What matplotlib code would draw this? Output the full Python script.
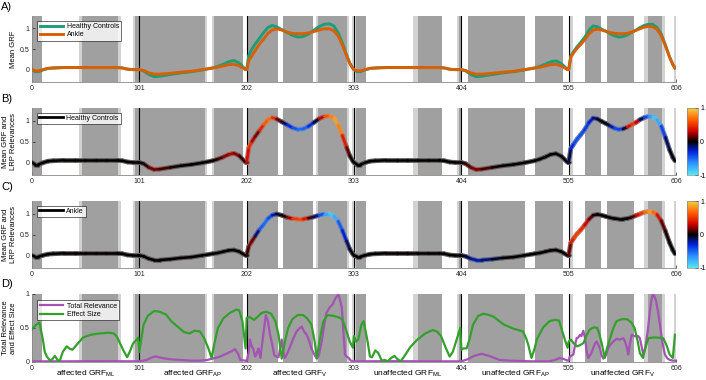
import numpy as np
import matplotlib
matplotlib.use('Agg')
import matplotlib.pyplot as plt
from matplotlib.collections import LineCollection
from matplotlib.colors import LinearSegmentedColormap, Normalize, to_rgba
from matplotlib.lines import Line2D
import matplotlib.transforms as mtransforms
import matplotlib.cm as cm

plt.rcParams['font.family'] = ['Liberation Sans', 'DejaVu Sans']

# ---------------- data ----------------
xticks = [0, 101, 202, 303, 404, 505, 606]
boundaries = [101, 202, 303, 404, 505]
categories = ['affected GRF$_{\\mathregular{ML}}$', 'affected GRF$_{\\mathregular{AP}}$',
              'affected GRF$_{\\mathregular{V}}$', 'unaffected GRF$_{\\mathregular{ML}}$',
              'unaffected GRF$_{\\mathregular{AP}}$', 'unaffected GRF$_{\\mathregular{V}}$']
category_centers = [50.5, 151.5, 252.5, 353.5, 454.5, 555.5]

dark_spans = [(0, 9), (47, 81), (96.6, 163), (171, 198.5), (202.3, 231.2), (236.5, 264.7),
              (269.5, 296.8), (304.5, 314.3), (363.5, 386), (401.8, 404.3), (410, 464),
              (473.3, 499.4), (520.5, 535), (541.4, 566.5), (579.5, 593)]
light_spans = [(8.5, 9.6), (44, 47), (81, 83.5), (94.7, 96.6), (163, 165), (169.5, 171),
               (267.5, 269.5), (296.8, 298.3), (301.4, 304.5), (358.2, 363.5), (399.6, 401.8),
               (505.6, 509.5), (576, 579.5), (593, 596), (604, 606)]

grf_x = [0, 3, 6, 10, 15, 20, 30, 40, 50, 60, 70, 80, 85, 90, 95, 100,
         101, 105, 110, 115, 120, 130, 140, 150, 160, 170, 175, 180, 185, 190, 195, 201,
         202, 204, 207, 210, 214, 218, 222, 226, 230, 235, 240, 245, 250, 255, 260, 265, 270, 275,
         280, 284, 288, 292, 296, 299, 302,
         303, 306, 309, 313, 318, 323, 333, 343, 353, 363, 373, 383, 388, 393, 398, 403,
         404, 408, 413, 418, 423, 433, 443, 453, 463, 473, 478, 483, 488, 493, 498, 504,
         505, 507, 510, 513, 516, 520, 524, 528, 532, 536, 540, 544, 548, 552, 556, 560, 564, 568,
         572, 576, 580, 584, 588, 592, 596, 600, 603, 605]

hc_grf = [0.0, -0.05, -0.05, -0.01, 0.03, 0.04, 0.05, 0.05, 0.05, 0.05, 0.05, 0.05, 0.04, 0.01, 0.0, 0.0,
          0.0, -0.03, -0.12, -0.17, -0.16, -0.12, -0.08, -0.05, -0.01, 0.04, 0.08, 0.13, 0.19, 0.22, 0.16, 0.0,
          0.0, 0.35, 0.5, 0.62, 0.76, 0.9, 1.02, 1.07, 1.04, 0.97, 0.9, 0.83, 0.79, 0.8, 0.86, 0.95, 1.04, 1.1,
          1.11, 1.06, 0.9, 0.65, 0.36, 0.16, 0.03,
          0.0, -0.05, -0.05, -0.01, 0.03, 0.04, 0.05, 0.05, 0.05, 0.05, 0.05, 0.05, 0.04, 0.01, 0.0, 0.0,
          0.0, -0.03, -0.12, -0.17, -0.16, -0.12, -0.08, -0.05, -0.01, 0.04, 0.08, 0.13, 0.19, 0.21, 0.15, 0.0,
          0.0, 0.33, 0.45, 0.56, 0.65, 0.78, 0.95, 1.06, 1.04, 0.98, 0.93, 0.87, 0.82, 0.79, 0.8, 0.84, 0.9, 0.95,
          1.02, 1.07, 1.1, 1.1, 1.02, 0.87, 0.6, 0.3, 0.12, 0.04]

ankle_grf = [0.0, -0.03, -0.03, 0.0, 0.03, 0.04, 0.05, 0.05, 0.05, 0.05, 0.05, 0.05, 0.04, 0.01, 0.0, 0.0,
             0.0, -0.02, -0.08, -0.11, -0.11, -0.09, -0.06, -0.04, 0.0, 0.04, 0.06, 0.09, 0.12, 0.13, 0.09, 0.0,
             0.0, 0.22, 0.34, 0.46, 0.62, 0.74, 0.88, 0.96, 0.99, 0.96, 0.91, 0.88, 0.87, 0.87, 0.89, 0.92, 0.96, 0.99,
             0.99, 0.94, 0.82, 0.6, 0.34, 0.15, 0.03,
             0.0, -0.03, -0.03, 0.0, 0.03, 0.04, 0.05, 0.05, 0.05, 0.05, 0.05, 0.05, 0.04, 0.01, 0.0, 0.0,
             0.0, -0.02, -0.08, -0.11, -0.11, -0.09, -0.06, -0.04, 0.0, 0.04, 0.06, 0.09, 0.12, 0.13, 0.09, 0.0,
             0.0, 0.3, 0.42, 0.52, 0.6, 0.72, 0.86, 0.96, 0.98, 0.96, 0.93, 0.9, 0.88, 0.87, 0.87, 0.88, 0.91, 0.95,
             0.99, 1.03, 1.05, 1.04, 0.98, 0.83, 0.58, 0.3, 0.13, 0.04]

hc_rel = [0] * 16 + \
         [0, 0, 0.1, 0.2, 0.15, 0.05, 0, 0, 0, 0, 0.05, 0.15, 0.25, 0.25, 0.15, 0] + \
         [0.2, 0.5, 0.45, 0.05, 0.3, 0.55, 0.7, 0.65, 0.3, 0.0, -0.2, -0.4, -0.5, -0.55, -0.45, -0.2, 0.05, 0.5,
          0.7, 0.8, 0.9, 0.6, 0.2, 0.05, 0.0] + \
         [0] * 16 + \
         [0, 0.05, 0.15, 0.2, 0.15, 0.05, 0, 0, 0, 0, 0, 0, 0, 0, 0, 0] + \
         [0, -0.2, -0.4, -0.45, -0.45, -0.4, -0.35, -0.2, -0.1, 0, 0, -0.1, -0.35, -0.45, -0.35, 0.2, 0.5, 0.5,
          0.05, -0.3, -0.55, -0.8, -0.9, -0.6, -0.2, -0.05, 0, 0]

ankle_rel = [0] * 16 + [0] * 16 + \
            [0, 0.15, 0.2, 0.1, -0.4, -0.55, -0.5, -0.35, -0.1, 0, 0.05, 0.4, 0.6, 0.55, 0.2, 0, -0.3, -0.6,
             -0.85, -0.9, -0.6, -0.35, -0.2, -0.05, 0] + \
            [0] * 16 + \
            [0, -0.05, -0.15, -0.25, -0.2, -0.1, 0, 0, 0, 0, 0, 0, 0, 0, 0, 0] + \
            [0, 0.3, 0.5, 0.55, 0.5, 0.4, 0.2, 0.05, 0, 0, 0, 0, 0, 0, 0, 0, 0, 0.2, 0.4, 0.6, 0.8, 0.85, 0.5,
             0.2, 0.05, 0, 0, 0]

es_x = [0, 4, 7, 10, 12, 14, 17, 19, 21.6, 24, 26, 29, 32.6, 35, 38, 43, 48, 55, 64, 72, 77, 80, 83, 86, 89.5,
        92, 95, 98.5, 100,
        101, 103, 105, 109, 115, 120, 126, 131, 137, 143, 148, 153, 158, 162, 166, 169, 172, 175, 180, 186, 192,
        195, 198, 201,
        202, 205, 209, 212, 216, 220, 225, 229, 232, 235, 238, 241, 245, 250, 255, 259, 263, 266, 268, 271, 274,
        278, 283, 288, 292, 296, 299, 302,
        303, 305, 307, 310, 312, 314, 316, 318, 320, 323, 326, 329, 332, 335, 338, 341, 344, 347, 351, 356, 362,
        370, 377, 381, 385, 389, 393, 396, 399, 403,
        404, 406, 409, 412, 415, 420, 425, 430, 434, 439, 444, 453, 462, 465, 467, 470, 473, 475, 481, 487, 492,
        496, 499, 502, 504,
        505, 507, 510, 513, 516, 519, 522, 525, 529, 532, 534, 536, 539, 541, 544, 547, 550, 555, 560, 564, 567,
        570, 572, 575, 577, 580, 584, 588, 594, 597, 600, 603, 605]
effect_size = [0.48, 0.55, 0.58, 0.35, 0.15, 0.08, 0.02, 0.04, 0.09, 0.03, 0.01, 0.15, 0.23, 0.2, 0.18, 0.27,
               0.36, 0.4, 0.42, 0.43, 0.42, 0.37, 0.27, 0.17, 0.07, 0.15, 0.27, 0.33, 0.36,
               0.15, 0.35, 0.55, 0.68, 0.75, 0.74, 0.7, 0.6, 0.52, 0.44, 0.42, 0.46, 0.45, 0.35, 0.2, 0.06, 0.3,
               0.5, 0.64, 0.72, 0.77, 0.76, 0.6, 0.2,
               0.65, 0.66, 0.62, 0.66, 0.72, 0.74, 0.71, 0.6, 0.4, 0.05, 0.3, 0.5, 0.63, 0.69, 0.69, 0.64, 0.55,
               0.3, 0.06, 0.35, 0.59, 0.69, 0.68, 0.66, 0.63, 0.45, 0.3, 0.21,
               0.38, 0.3, 0.33, 0.55, 0.6, 0.45, 0.28, 0.08, 0.07, 0.17, 0.13, 0.02, 0.03, 0.01, 0.06, 0.09, 0.04,
               0.01, 0.1, 0.22, 0.32, 0.42, 0.47, 0.45, 0.38, 0.22, 0.08, 0.15, 0.3, 0.5,
               0.18, 0.2, 0.2, 0.35, 0.55, 0.68, 0.71, 0.69, 0.67, 0.61, 0.55, 0.49, 0.45, 0.35, 0.25, 0.06, 0.2,
               0.33, 0.51, 0.6, 0.62, 0.61, 0.45, 0.3, 0.21,
               0.3, 0.33, 0.27, 0.23, 0.25, 0.28, 0.4, 0.48, 0.51, 0.5, 0.4, 0.28, 0.06, 0.2, 0.35, 0.5, 0.6, 0.63,
               0.63, 0.58, 0.5, 0.3, 0.13, 0.06, 0.2, 0.35, 0.36, 0.36, 0.35, 0.25, 0.11, 0.06, 0.4]

tr_x = [0, 30, 60, 100,
        101, 108, 113, 117, 122, 130, 140, 150, 158, 165, 170, 175, 180, 184, 188, 191, 194, 196, 201,
        202, 204, 205, 207, 208, 210, 212, 213, 215, 216, 218, 220, 222, 224, 225.5, 228, 230, 232, 235, 237, 238,
        240, 243, 246, 249, 252, 254, 256, 258.5, 261, 263, 266, 268, 270, 272.6, 275, 277, 280, 283, 285, 287,
        288.5, 290, 291.5, 293, 294.5, 296, 298, 300, 302,
        303, 340, 370, 403,
        404, 410, 416, 423, 430, 440, 450, 470, 487, 492, 497, 501, 504,
        505, 506, 509.4, 511, 512.5, 514, 515.6, 517, 518.8, 520.4, 522, 523.5, 526, 528, 530, 531.4, 533, 534.5,
        536, 537.6, 540, 542, 544, 547, 550, 553, 556.4, 558, 560, 561, 563, 564.3, 567, 570.5, 572, 574, 575.2,
        577, 579.4, 581.5, 583, 584, 585.5, 587.2, 589, 590.9, 593, 595.6, 598, 600.4, 603, 605]
total_relevance = [0.01, 0.01, 0.012, 0.01,
                   0.01, 0.03, 0.07, 0.08, 0.06, 0.04, 0.03, 0.02, 0.02, 0.03, 0.05, 0.07, 0.1, 0.13, 0.16, 0.19,
                   0.12, 0.03, 0.02,
                   0.01, 0.15, 0.33, 0.22, 0.2, 0.08, 0.15, 0.2, 0.06, 0.2, 0.45, 0.69, 0.6, 0.4, 0.3, 0.1, 0.08,
                   0.07, 0.33, 0.1, 0.06, 0.12, 0.23, 0.35, 0.45, 0.5, 0.52, 0.45, 0.4, 0.3, 0.2, 0.1, 0.05, 0.1,
                   0.3, 0.55, 0.72, 0.8, 0.85, 0.92, 0.97, 0.99, 0.9, 0.8, 0.45, 0.11, 0.08, 0.06, 0.02, 0.01,
                   0.01, 0.012, 0.01, 0.01,
                   0.01, 0.04, 0.09, 0.12, 0.09, 0.03, 0.02, 0.01, 0.01, 0.03, 0.06, 0.04, 0.02,
                   0.02, 0.08, 0.11, 0.25, 0.35, 0.36, 0.4, 0.38, 0.46, 0.35, 0.15, 0.06, 0.12, 0.2, 0.28, 0.3,
                   0.25, 0.2, 0.1, 0.05, 0.1, 0.2, 0.25, 0.3, 0.34, 0.33, 0.35, 0.3, 0.2, 0.11, 0.3, 0.4, 0.38,
                   0.38, 0.35, 0.2, 0.11, 0.2, 0.45, 0.75, 0.92, 0.99, 0.97, 0.9, 0.75, 0.55, 0.3, 0.11, 0.05,
                   0.03, 0.02, 0.02]

# ---------------- style ----------------
c_hc = '#1b9e77'
c_ankle = '#d95f02'
c_tr = '#a552b5'
c_es = '#33a02c'
dark_gray = '#a0a0a0'
light_gray = '#d2d2d2'
rel_cmap = LinearSegmentedColormap.from_list(
    'rel', [(0.0, '#55e8f5'), (0.18, '#2a90ff'), (0.35, '#0022dd'), (0.5, '#000000'),
            (0.65, '#cc0000'), (0.82, '#ff5a00'), (1.0, '#f2d040')])
norm = Normalize(-1, 1)

W, H = 706, 380
fig = plt.figure(figsize=(W / 100, H / 100), dpi=100)

def fx(px):
    return px / W

def fy(py):
    return 1 - py / H

ax_left, ax_right = 32, 676
panels = [(16, 82), (108, 175), (201, 268), (294, 362)]
axes = []
for (t, b) in panels:
    ax = fig.add_axes([fx(ax_left), fy(b), fx(ax_right - ax_left), (b - t) / H])
    axes.append(ax)

fs_tick = 5
for i, ax in enumerate(axes):
    for s, e in light_spans:
        ax.axvspan(s, e, color=light_gray, lw=0, zorder=0)
    for s, e in dark_spans:
        ax.axvspan(s, e, color=dark_gray, lw=0, zorder=0.5)
    for bx in boundaries:
        ax.axvline(bx, color='black', lw=0.8, zorder=1)
    ax.set_xlim(0, 606)
    ax.set_xticks(xticks)
    ax.set_xticklabels([str(v) for v in xticks])
    ax.tick_params(axis='both', labelsize=fs_tick, direction='in', length=2, width=0.5,
                   colors='#222222', pad=2)
    for sp in ['top', 'right']:
        ax.spines[sp].set_visible(False)
    for sp in ['left', 'bottom']:
        ax.spines[sp].set_color('#888888')
        ax.spines[sp].set_linewidth(0.6)
    if i < 3:
        ax.set_ylim(-0.3, 1.3)
    else:
        ax.set_ylim(0, 1)
    ax.set_yticks([0, 0.5, 1])
    ax.set_yticklabels(['0', '0.5', '1'])

# Panel A
axA = axes[0]
axA.plot(grf_x, hc_grf, color=c_hc, lw=2.1, label='Healthy Controls', zorder=3)
axA.plot(grf_x, ankle_grf, color=c_ankle, lw=2.1, label='Ankle', zorder=4)
axA.set_ylabel('Mean GRF', fontsize=5.5, labelpad=2)
legA = axA.legend(loc='upper left', bbox_to_anchor=(0.008, 0.93), fontsize=5, frameon=True,
                  fancybox=False, edgecolor='black', borderaxespad=0, handlelength=3.4,
                  borderpad=0.35, labelspacing=0.2, handletextpad=0.5)
legA.get_frame().set_linewidth(0.5)
legA.set_zorder(10)

halo_base = np.array(to_rgba('#a8a8a8'))

def colored_line(ax, x, y, r):
    pts = np.column_stack([x, y])
    segs = np.stack([pts[:-1], pts[1:]], axis=1)
    rv = np.asarray(r, dtype=float)
    mid = (rv[:-1] + rv[1:]) / 2
    cols = rel_cmap(norm(mid))
    halo = 0.45 * cols + 0.55 * halo_base
    halo[:, 3] = 1.0
    glow = LineCollection(segs, colors=halo, linewidths=3.4, zorder=3,
                          capstyle='round', joinstyle='round')
    ax.add_collection(glow)
    lc = LineCollection(segs, colors=cols, linewidths=1.8, zorder=4, capstyle='round',
                        joinstyle='round')
    ax.add_collection(lc)

for ax, yv, rv, name in [(axes[1], hc_grf, hc_rel, 'Healthy Controls'),
                         (axes[2], ankle_grf, ankle_rel, 'Ankle')]:
    colored_line(ax, grf_x, yv, rv)
    ax.set_ylabel('Mean GRF and\nLRP Relevances', fontsize=5.5, labelpad=2, linespacing=1.1)
    h = [Line2D([0], [0], color='black', lw=2.0)]
    lg = ax.legend(h, [name], loc='upper left', bbox_to_anchor=(0.008, 0.93), fontsize=5, frameon=True,
                   fancybox=False, edgecolor='black', borderaxespad=0, handlelength=3.4,
                   borderpad=0.3, handletextpad=0.5)
    lg.get_frame().set_linewidth(0.5)
    lg.set_zorder(10)

# colorbars
for (t, b) in [panels[1], panels[2]]:
    cax = fig.add_axes([fx(687), fy(b), fx(11), (b - t) / H])
    sm = cm.ScalarMappable(norm=norm, cmap=rel_cmap)
    cb = fig.colorbar(sm, cax=cax, ticks=[-1, 0, 1])
    cb.ax.set_yticklabels(['-1', '0', '1'])
    cb.ax.tick_params(labelsize=5, length=2, width=0.5, direction='in', pad=1.5)
    cb.outline.set_linewidth(0.5)
    cb.outline.set_edgecolor('#888888')

# Panel D
axD = axes[3]
axD.plot(tr_x, total_relevance, color=c_tr, lw=1.6, label='Total Relevance', zorder=3)
axD.plot(es_x, effect_size, color=c_es, lw=1.6, label='Effect Size', zorder=4)
axD.set_ylabel('Total Relevance\nand Effect Size', fontsize=5.5, labelpad=2, linespacing=1.1)
legD = axD.legend(loc='upper left', bbox_to_anchor=(0.008, 0.91), fontsize=5, frameon=True,
                  fancybox=False, edgecolor='black', borderaxespad=0, handlelength=3.4,
                  borderpad=0.35, labelspacing=0.2, handletextpad=0.5)
legD.get_frame().set_linewidth(0.5)
legD.set_zorder(10)
trans = mtransforms.blended_transform_factory(axD.transData, axD.transAxes)
for cx, lab in zip(category_centers, categories):
    axD.text(cx, -0.175, lab, transform=trans, ha='center', va='center', fontsize=6)

# panel letters
for lab, py in zip(['A)', 'B)', 'C)', 'D)'], [7, 99, 187, 284]):
    fig.text(fx(1), fy(py), lab, fontsize=8, ha='left', va='center')

fig.savefig('out.png', dpi=100)
